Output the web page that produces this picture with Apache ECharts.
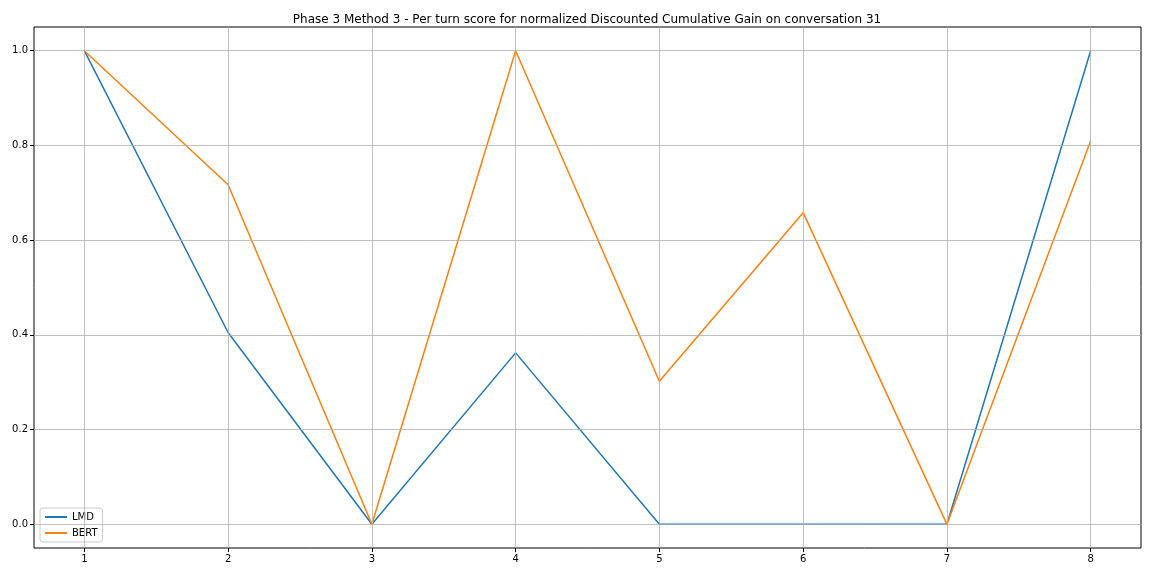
<!DOCTYPE html>
<html><head><meta charset="utf-8">
<script src="https://cdn.jsdelivr.net/npm/echarts@6/dist/echarts.min.js"></script>
<style>html,body{margin:0;padding:0;background:#fff}#c{width:1152px;height:576px}</style>
</head><body><div id="c"></div>
<script>
const turns = [1,2,3,4,5,6,7,8];
const lmd = [1.0, 0.405, 0.0, 0.362, 0.0, 0.0, 0.0, 1.0];
const bert = [1.0, 0.717, 0.0, 1.0, 0.302, 0.658, 0.0, 0.81];
const xTicks = [1,2,3,4,5,6,7,8];
const yTicks = [0.0,0.2,0.4,0.6,0.8,1.0];
const titleText = 'Phase 3 Method 3 - Per turn score for normalized Discounted Cumulative Gain on conversation 31';

const chart = echarts.init(document.getElementById('c'));
const font = 'DejaVu Sans';
chart.setOption({
  animation:false,
  backgroundColor:'#fff',
  title:{text:titleText,left:582,textAlign:'center',top:9,textStyle:{fontFamily:font,fontSize:12,fontWeight:'normal',color:'#000'}},
  grid:{left:34,right:11,top:27,bottom:28,show:true,borderColor:'#000',borderWidth:1,backgroundColor:'transparent'},
  legend:{left:40,bottom:34,orient:'vertical',itemWidth:22,itemHeight:2,itemGap:6,
    padding:[4,5,4,5],borderColor:'#ccc',borderWidth:1,borderRadius:3,backgroundColor:'rgba(255,255,255,0.8)',
    textStyle:{fontFamily:font,fontSize:10,color:'#000'},
    data:[{name:'LMD',icon:'rect'},{name:'BERT',icon:'rect'}]},
  xAxis:{type:'value',min:0.65,max:8.35,
    axisLine:{show:false,onZero:false},
    axisTick:{customValues:xTicks,length:4,lineStyle:{color:'#000'}},
    axisLabel:{customValues:xTicks,fontFamily:font,fontSize:10,color:'#000',margin:6},
    splitLine:{show:false}},
  yAxis:{type:'value',min:-0.05,max:1.05,
    axisLine:{show:false,onZero:false},
    axisTick:{show:true,customValues:yTicks,length:4,lineStyle:{color:'#000'}},
    axisLabel:{customValues:yTicks,fontFamily:font,fontSize:10,color:'#000',margin:6,formatter:v=>v.toFixed(1)},
    splitLine:{show:false}},
  series:[
    {type:'line',name:'_gx',data:[],silent:true,markLine:{symbol:'none',silent:true,label:{show:false},
      lineStyle:{color:'#b0b0b0',width:0.8,type:'solid'},data:xTicks.map(v=>({xAxis:v}))}},
    {type:'line',name:'_gy',data:[],silent:true,markLine:{symbol:'none',silent:true,label:{show:false},
      lineStyle:{color:'#b0b0b0',width:0.8,type:'solid'},data:yTicks.map(v=>({yAxis:v}))}},
    {type:'line',name:'LMD',data:turns.map((t,i)=>[t,lmd[i]]),showSymbol:false,color:'#1f77b4',lineStyle:{width:1.5}},
    {type:'line',name:'BERT',data:turns.map((t,i)=>[t,bert[i]]),showSymbol:false,color:'#ff7f0e',lineStyle:{width:1.5}}
  ]
});
</script></body></html>
